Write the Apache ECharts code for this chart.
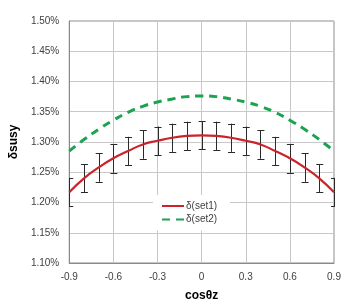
<!DOCTYPE html>
<html>
<head>
<meta charset="utf-8">
<script src="https://cdn.jsdelivr.net/npm/echarts@6/dist/echarts.min.js"></script>
<style>html,body{margin:0;padding:0;background:#fff;}#c{width:357px;height:307px;}</style>
</head>
<body>
<div id="c"></div>
<script>
const cosValues = [-0.9,-0.8,-0.7,-0.6,-0.5,-0.4,-0.3,-0.2,-0.1,0,0.1,0.2,0.3,0.4,0.5,0.6,0.7,0.8,0.9];
const set1 = [1.217,1.240,1.258,1.273,1.285,1.296,1.302,1.307,1.310,1.311,1.310,1.307,1.302,1.296,1.285,1.273,1.258,1.240,1.217];
const set2 = [1.285,1.304,1.321,1.336,1.349,1.359,1.366,1.371,1.375,1.376,1.375,1.371,1.366,1.359,1.349,1.336,1.321,1.304,1.285];
const set1Err = [0.0236,0.0234,0.0238,0.0238,0.0236,0.0238,0.0236,0.0233,0.0236,0.0233,0.0236,0.0233,0.0236,0.0238,0.0236,0.0238,0.0238,0.0234,0.0236];
const xTicks = [-0.9,-0.6,-0.3,0,0.3,0.6,0.9];
const yMin = 1.10, yMax = 1.50, yStep = 0.05;

const chart = echarts.init(document.getElementById('c'), null, {renderer:'canvas'});
const errData = cosValues.map((x,i)=>[x, set1[i]-set1Err[i], set1[i]+set1Err[i]]);
chart.setOption({
  animation:false,
  backgroundColor:'#fff',
  textStyle:{fontFamily:'Liberation Sans, Arial, sans-serif'},
  grid:{left:63,right:23,top:21,bottom:43,show:true,borderColor:'#8a8a8a',borderWidth:1,backgroundColor:'transparent'},
  legend:{
    data:['δ(set1)','δ(set2)'],
    orient:'vertical', left:153, top:195,
    backgroundColor:'#fff', padding:[6,13,6,8],
    itemWidth:22, itemHeight:12, itemGap:3.5,
    itemStyle:{opacity:0},
    textStyle:{fontSize:10,color:'#404040',padding:[0,0,0,-3]}
  },
  xAxis:{
    type:'value', min:-0.9, max:0.9, interval:0.3,
    name:'cosθz', nameLocation:'middle', nameGap:27,
    nameTextStyle:{fontSize:12,fontWeight:'bold',color:'#000'},
    axisLine:{show:true,onZero:false,lineStyle:{color:'#8a8a8a'}},
    axisTick:{show:false},
    axisLabel:{fontSize:10,color:'#404040',margin:9,formatter:v=>{const r=Math.round(v*10)/10; return xTicks.includes(r)? String(r):'';}},
    splitLine:{show:true,lineStyle:{color:'#c8c8c8'}}
  },
  yAxis:{
    type:'value', min:yMin, max:yMax, interval:yStep,
    name:'δsusy', nameLocation:'middle', nameGap:40, nameRotate:90,
    nameTextStyle:{fontSize:12,fontWeight:'bold',color:'#000'},
    axisLine:{show:true,onZero:false,lineStyle:{color:'#8a8a8a'}},
    axisTick:{show:false},
    axisLabel:{fontSize:10,color:'#404040',margin:10,formatter:v=>v.toFixed(2)+'%'},
    splitLine:{show:true,lineStyle:{color:'#c8c8c8'}}
  },
  series:[
    {
      type:'custom', name:'err', data:errData, clip:true, z:2,
      renderItem:(params,api)=>{
        const x=api.value(0), lo=api.value(1), hi=api.value(2);
        const pLo=api.coord([x,lo]), pHi=api.coord([x,hi]);
        const st={stroke:'#2a2a2a',lineWidth:1};
        return {type:'group',children:[
          {type:'line',shape:{x1:Math.round(pLo[0])+0.5,y1:pLo[1],x2:Math.round(pHi[0])+0.5,y2:pHi[1]},style:st},
          {type:'line',shape:{x1:pLo[0]-3,y1:Math.round(pLo[1])+0.5,x2:pLo[0]+4,y2:Math.round(pLo[1])+0.5},style:st},
          {type:'line',shape:{x1:pHi[0]-3,y1:Math.round(pHi[1])+0.5,x2:pHi[0]+4,y2:Math.round(pHi[1])+0.5},style:st}
        ]};
      }
    },
    {
      type:'line', name:'δ(set1)', data:cosValues.map((x,i)=>[x,set1[i]]),
      smooth:true, symbol:'none', z:3,
      lineStyle:{color:'#cc2229',width:2.2}, itemStyle:{color:'#cc2229'}
    },
    {
      type:'line', name:'δ(set2)', data:cosValues.map((x,i)=>[x,set2[i]]),
      smooth:true, symbol:'none', z:3,
      lineStyle:{color:'#1ba34f',width:3,type:[8,6]}, itemStyle:{color:'#1ba34f'}
    }
  ]
});
</script>
</body>
</html>
